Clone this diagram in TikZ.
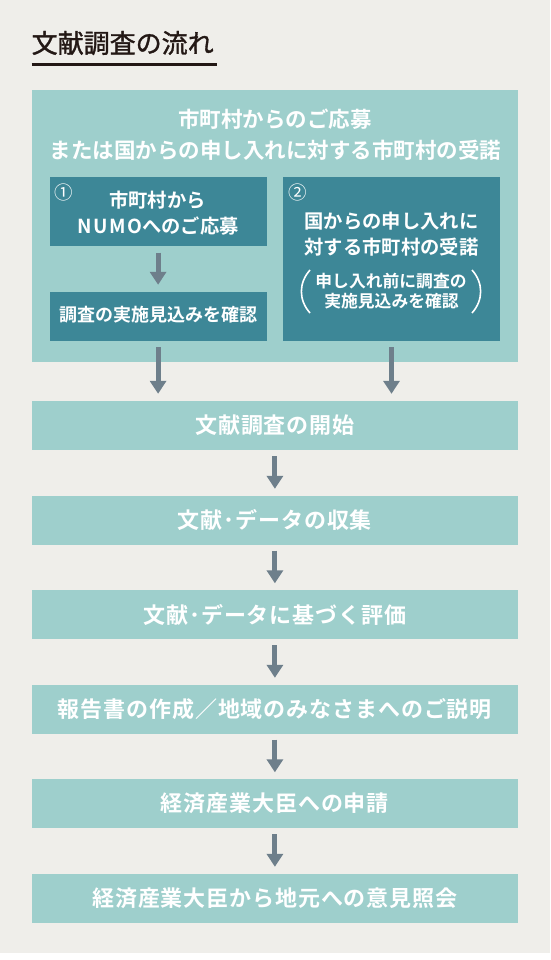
\documentclass[tikz,border=0pt]{standalone}
\usepackage{fontspec}
\usetikzlibrary{arrows.meta}
\newfontfamily\jp{Noto Sans CJK JP}[BoldFont={Noto Sans CJK JP Bold}]
\newfontfamily\jpsp{Noto Sans CJK JP}[BoldFont={Noto Sans CJK JP Bold},LetterSpace=4]
\newfontfamily\jptitle{Noto Sans CJK JP}[FakeBold=1.3]
\newfontfamily\jplat{Noto Sans CJK JP}[BoldFont={Noto Sans CJK JP Bold},LetterSpace=8]
\definecolor{bgc}{HTML}{EFEEEA}
\definecolor{lteal}{HTML}{9ECFCC}
\definecolor{dteal}{HTML}{3D8797}
\definecolor{arrowc}{HTML}{6E7F8B}
\definecolor{titlec}{HTML}{231815}
\tikzset{
  lightbox/.style={rectangle, fill=lteal, draw=none, inner sep=0pt},
  darkbox/.style={rectangle, fill=dteal, draw=none, inner sep=0pt},
  mainbox/.style={lightbox, minimum width=486.8pt, minimum height=49pt, text=white, font=\jpsp\bfseries\fontsize{22}{26}\selectfont},
  wtext/.style={inner sep=0pt, text=white},
  toptext/.style={wtext, font=\jp\bfseries\fontsize{21.5}{26}\selectfont},
  intext/.style={wtext, font=\jp\bfseries\fontsize{19.3}{24}\selectfont},
  smalltext/.style={wtext, font=\jp\bfseries\fontsize{18}{22}\selectfont},
  subtext/.style={wtext, font=\jp\bfseries\fontsize{16.8}{20}\selectfont},
  circnum/.style={wtext, font=\jp\fontsize{18.5}{20}\selectfont},
  flowarrow/.style={draw=arrowc, line width=5pt, -{Triangle[width=16pt,length=13pt]}},
}
\begin{document}
\begin{tikzpicture}[x=1pt, y=-1pt]
\useasboundingbox (0,0) rectangle (550,960);
\fill[bgc] (0,0) rectangle (550,953);
\fill[white] (0,953) rectangle (550,960);

% title
\node[anchor=west, inner sep=0pt, text=titlec, font=\jptitle\fontsize{26}{30}\selectfont] (title) at (31.5,43) {文献調査の流れ};
\coordinate (ul1) at (31.5,65);
\coordinate (ul2) at (216.7,65);
\draw[titlec, line width=3pt] (ul1) -- (ul2);

% outer box
\node[lightbox, minimum width=486.8pt, minimum height=272pt] (outer) at (274.9,226) {};
\node[toptext] (ot1) at (275,119) {市町村からのご応募};
\node[toptext] (ot2) at (275.3,150.5) {または国からの申し入れに対する市町村の受諾};

% left column
\node[darkbox, minimum width=217.2pt, minimum height=68.2pt] (a1) at (158.1,211.6) {};
\node[circnum] (n1) at (64,192.5) {①};
\node[intext] (a1t1) at (157.5,200) {市町村から};
\node[intext] (a1t2) at (158,226) {{\jplat\bfseries\fontsize{19.3}{24}\selectfont NUMO}へのご応募};
\node[darkbox, minimum width=217.2pt, minimum height=48.8pt] (a2) at (158.1,316.1) {};
\node[smalltext] (a2t) at (158,315) {調査の実施見込みを確認};

% right column
\node[darkbox, minimum width=217pt, minimum height=163.5pt] (bx) at (391.5,258.75) {};
\node[circnum] (n2) at (297.5,192) {②};
\node[intext] (bt1) at (391.5,221) {国からの申し入れに};
\node[intext] (bt2) at (391.5,247) {対する市町村の受諾};
\node[subtext] (bs1) at (391,281) {申し入れ前に調査の};
\node[subtext] (bs2) at (391.5,301.5) {実施見込みを確認};
\draw[white, line width=1.6pt] (310,270) .. controls (298.5,283) and (298.5,300) .. (310,313);
\draw[white, line width=1.6pt] (472,270) .. controls (483.5,283) and (483.5,300) .. (472,313);

% main steps
\node[mainbox] (m1) at (274.9,425.5) {文献調査の開始};
\node[mainbox] (m2) at (274.9,520) {文献･データの収集};
\node[mainbox] (m3) at (274.9,614.5) {文献･データに基づく評価};
\node[mainbox] (m4) at (274.9,709) {報告書の作成／地域のみなさまへのご説明};
\node[mainbox] (m5) at (274.9,803.5) {経済産業大臣への申請};
\node[mainbox] (m6) at (274.9,898) {経済産業大臣から地元への意見照会};

% arrows
\draw[flowarrow, shorten <=6.6pt, shorten >=6.7pt] (a1.south) -- (a2.north);
\draw[flowarrow, shorten <=6.5pt, shorten >=7pt] (a2.south) -- (a2.south |- m1.north);
\draw[flowarrow, shorten <=6.5pt, shorten >=7pt] (bx.south) -- (bx.south |- m1.north);
\draw[flowarrow, shorten <=6pt, shorten >=6.5pt] (m1.south) -- (m2.north);
\draw[flowarrow, shorten <=6pt, shorten >=6.5pt] (m2.south) -- (m3.north);
\draw[flowarrow, shorten <=6pt, shorten >=6.5pt] (m3.south) -- (m4.north);
\draw[flowarrow, shorten <=6pt, shorten >=6.5pt] (m4.south) -- (m5.north);
\draw[flowarrow, shorten <=6pt, shorten >=6.5pt] (m5.south) -- (m6.north);
\end{tikzpicture}
\end{document}
